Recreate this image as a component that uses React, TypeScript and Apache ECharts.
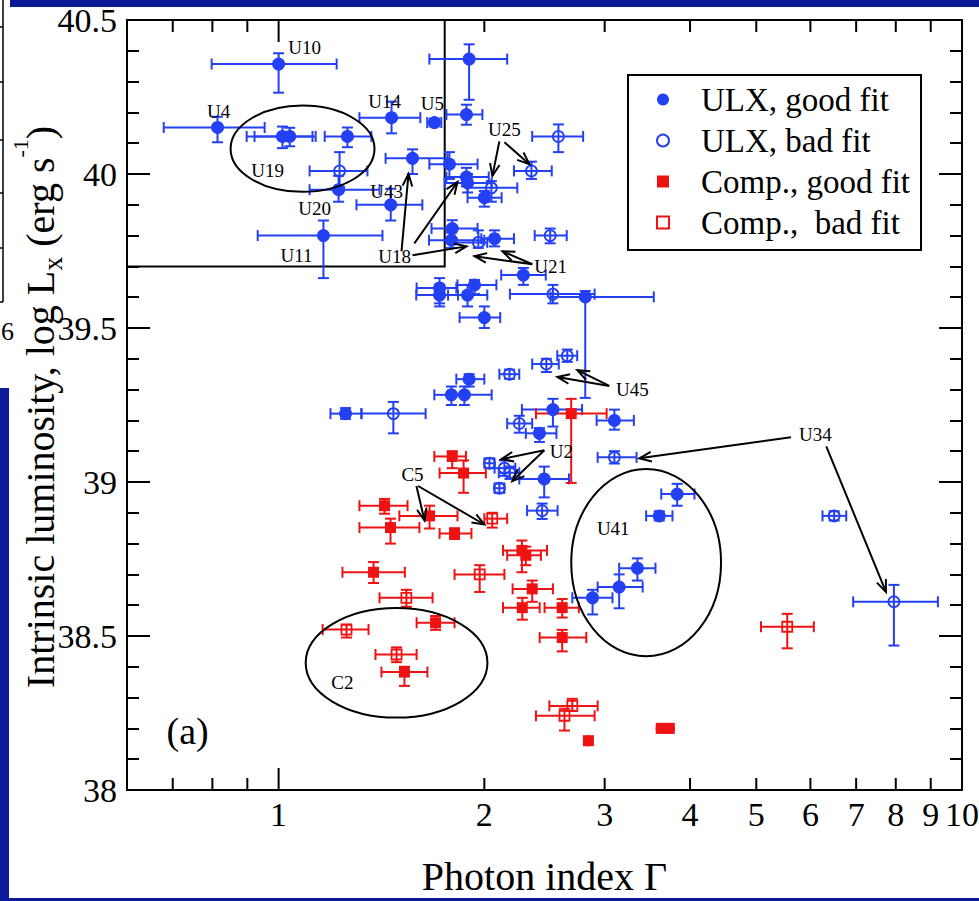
import React, { useEffect, useRef } from 'react';
import * as echarts from 'echarts';

const X_MIN = 0.6;
const X_MAX = 10;
const Y_MIN = 38;
const Y_MAX = 40.5;

const xMinorTicks = [0.7, 0.8, 0.9, 2, 3, 4, 5, 6, 7, 8, 9];
const xMajorTicks = [1, 10];
const xTickLabels = [1, 2, 3, 4, 5, 6, 7, 8, 9, 10];

const BLUE = '#2340f5';
const RED = '#ee1212';
const NAVY = '#0a1a98';
const FONT = '"Liberation Serif", "Times New Roman", serif';

// [Gamma, logLx, GammaLow, GammaHigh, LxLow, LxHigh]
const ulxGood = [
  [1.0, 40.357, 0.798, 1.216, 40.264, 40.392],
  [0.814, 40.151, 0.679, 0.954, 40.103, 40.186],
  [1.013, 40.122, 0.898, 1.121, 40.084, 40.154],
  [1.038, 40.122, 0.922, 1.133, 40.09, 40.15],
  [1.261, 40.122, 1.168, 1.367, 40.087, 40.151],
  [1.224, 39.949, 1.11, 1.405, 39.91, 39.994],
  [1.463, 40.183, 1.313, 1.612, 40.132, 40.235],
  [1.69, 40.167, 1.65, 1.73, 40.155, 40.18],
  [1.883, 40.193, 1.76, 1.987, 40.16, 40.225],
  [1.9, 40.373, 1.662, 2.16, 40.241, 40.421],
  [1.57, 40.051, 1.434, 1.766, 40.0, 40.08],
  [1.459, 39.9, 1.3, 1.623, 39.849, 39.952],
  [1.163, 39.8, 0.932, 1.419, 39.662, 39.849],
  [1.778, 40.032, 1.662, 1.955, 39.984, 40.071],
  [1.883, 39.99, 1.76, 2.03, 39.96, 40.02],
  [1.89, 39.971, 1.75, 2.05, 39.94, 40.0],
  [2.0, 39.923, 1.89, 2.12, 39.894, 39.945],
  [1.795, 39.823, 1.674, 1.955, 39.79, 39.85],
  [1.79, 39.785, 1.66, 2.0, 39.76, 39.81],
  [2.07, 39.79, 1.98, 2.21, 39.765, 39.817],
  [2.281, 39.672, 2.117, 2.46, 39.64, 39.695],
  [2.81, 39.601, 2.5, 3.54, 39.273, 39.62],
  [1.72, 39.63, 1.592, 1.82, 39.58, 39.662],
  [1.72, 39.607, 1.59, 1.83, 39.57, 39.64],
  [1.935, 39.64, 1.827, 2.083, 39.61, 39.656],
  [1.89, 39.607, 1.77, 2.02, 39.57, 39.64],
  [2.0, 39.534, 1.84, 2.11, 39.5, 39.57],
  [1.9, 39.334, 1.82, 2.0, 39.31, 39.35],
  [1.79, 39.283, 1.69, 1.86, 39.25, 39.31],
  [1.87, 39.283, 1.77, 2.05, 39.25, 39.31],
  [1.253, 39.222, 1.191, 1.322, 39.205, 39.24],
  [2.52, 39.235, 2.27, 2.78, 39.18, 39.27],
  [3.1, 39.2, 2.92, 3.31, 39.17, 39.235],
  [2.408, 39.158, 2.3, 2.55, 39.13, 39.175],
  [2.447, 39.01, 2.25, 2.66, 38.95, 39.05],
  [2.88, 38.624, 2.69, 3.08, 38.57, 38.65],
  [3.15, 38.659, 2.93, 3.41, 38.59, 38.7],
  [3.35, 38.72, 3.15, 3.56, 38.68, 38.752],
  [3.606, 38.89, 3.45, 3.77, 38.875, 38.905],
  [3.83, 38.961, 3.63, 4.06, 38.923, 38.994],
];

const ulxBad = [
  [1.228, 40.01, 1.11, 1.349, 39.958, 40.071],
  [2.567, 40.122, 2.35, 2.79, 40.071, 40.161],
  [2.344, 40.01, 2.21, 2.51, 39.984, 40.04],
  [2.048, 39.955, 1.89, 2.235, 39.91, 39.977],
  [1.96, 39.778, 1.79, 2.02, 39.76, 39.817],
  [2.497, 39.8, 2.37, 2.64, 39.775, 39.823],
  [2.52, 39.61, 2.18, 2.9, 39.58, 39.64],
  [2.645, 39.41, 2.557, 2.735, 39.39, 39.43],
  [2.465, 39.383, 2.35, 2.57, 39.357, 39.4],
  [2.177, 39.35, 2.104, 2.25, 39.335, 39.365],
  [1.472, 39.222, 1.322, 1.641, 39.158, 39.26],
  [2.25, 39.19, 2.16, 2.35, 39.16, 39.215],
  [3.1, 39.08, 2.93, 3.34, 39.06, 39.1],
  [2.035, 39.061, 2.0, 2.07, 39.045, 39.077],
  [2.14, 39.045, 2.07, 2.22, 39.02, 39.07],
  [2.18, 39.03, 2.1, 2.25, 39.01, 39.05],
  [2.104, 38.98, 2.07, 2.14, 38.965, 38.995],
  [2.43, 38.907, 2.31, 2.56, 38.88, 38.93],
  [6.5, 38.89, 6.25, 6.77, 38.875, 38.905],
  [7.95, 38.611, 6.93, 9.22, 38.469, 38.666],
];

const compGood = [
  [2.68, 39.222, 2.38, 3.02, 38.997, 39.27],
  [1.795, 39.083, 1.69, 1.88, 39.045, 39.1],
  [1.865, 39.029, 1.72, 2.01, 38.965, 39.07],
  [1.429, 38.923, 1.313, 1.544, 38.897, 38.945],
  [1.663, 38.89, 1.502, 1.827, 38.849, 38.923],
  [1.458, 38.852, 1.313, 1.607, 38.8, 38.881],
  [1.809, 38.833, 1.72, 1.915, 38.815, 38.85],
  [2.27, 38.778, 2.13, 2.47, 38.707, 38.81],
  [2.3, 38.762, 2.16, 2.42, 38.73, 38.79],
  [1.377, 38.707, 1.24, 1.53, 38.672, 38.74],
  [2.35, 38.653, 2.2, 2.52, 38.611, 38.68],
  [2.273, 38.592, 2.13, 2.41, 38.553, 38.624],
  [2.6, 38.592, 2.45, 2.75, 38.56, 38.62],
  [2.6, 38.495, 2.41, 2.82, 38.45, 38.52],
  [1.697, 38.543, 1.592, 1.809, 38.52, 38.565],
  [1.528, 38.383, 1.414, 1.651, 38.338, 38.4],
  [2.84, 38.16, 2.84, 2.84, 38.16, 38.16],
  [3.63, 38.2, 3.63, 3.63, 38.2, 38.2],
  [3.73, 38.2, 3.73, 3.73, 38.2, 38.2],
];

const compBad = [
  [2.054, 38.881, 2.0, 2.16, 38.852, 38.9],
  [1.969, 38.7, 1.809, 2.14, 38.643, 38.73],
  [1.538, 38.624, 1.405, 1.68, 38.595, 38.65],
  [1.257, 38.521, 1.16, 1.354, 38.495, 38.537],
  [1.488, 38.44, 1.386, 1.592, 38.415, 38.463],
  [5.55, 38.53, 5.08, 6.07, 38.46, 38.572],
  [2.69, 38.273, 2.49, 2.93, 38.257, 38.296],
  [2.62, 38.241, 2.38, 2.9, 38.193, 38.264],
];

// annotations (data coordinates)
const labelTexts = ['U10', 'U4', 'U19', 'U20', 'U11', 'U14', 'U5', 'U43', 'U18', 'U25', 'U21', 'U45', 'U2', 'U34', 'U41', 'C5', 'C2'];
const labelX = [1.092, 0.817, 0.964, 1.129, 1.062, 1.429, 1.679, 1.439, 1.478, 2.14, 2.5, 3.293, 2.593, 6.1, 3.088, 1.57, 1.24];
const labelY = [40.412, 40.203, 40.01, 39.887, 39.736, 40.235, 40.228, 39.942, 39.733, 40.145, 39.701, 39.299, 39.1, 39.154, 38.849, 39.023, 38.35];
const panelTag = ['(a)'];
const panelTagPos = [[0.736, 38.193]];

// [fromGamma, fromLx, toGamma, toLx]
const arrows = [
  [1.513, 39.749, 1.549, 40.0],
  [1.58, 39.775, 1.827, 39.974],
  [1.57, 39.736, 1.883, 39.765],
  [2.104, 40.106, 2.055, 39.994],
  [2.14, 40.103, 2.328, 40.032],
  [2.351, 39.707, 1.935, 39.733],
  [2.351, 39.707, 2.126, 39.749],
  [3.047, 39.312, 2.558, 39.341],
  [3.047, 39.312, 2.736, 39.363],
  [2.448, 39.103, 2.118, 39.074],
  [2.448, 39.103, 2.198, 39.003],
  [5.62, 39.145, 3.372, 39.077],
  [6.33, 39.116, 7.74, 38.643],
  [1.591, 38.987, 1.635, 38.875],
  [1.6, 38.987, 2.0, 38.862],
];

// [centerGamma, centerLx, halfWidth (decades), halfHeight (dex)]
const ellipses = [
  [1.084, 40.082, 0.1053, 0.14],
  [1.488, 38.413, 0.133, 0.178],
  [3.45, 38.738, 0.1096, 0.304],
];

// zoom box [GammaMin, LxMin, GammaMax, LxMax]
const zoomBox = [[0.6, 39.7, 1.75, 40.5]];

const legendNames = ['ULX, good fit', 'ULX, bad fit', 'Comp., good fit', 'Comp.,  bad fit'];

function errorBarSeries(name: string, data: number[][], color: string) {
  return {
    type: 'custom',
    name,
    data,
    z: 2,
    silent: true,
    clip: false,
    encode: { x: [0, 2, 3], y: [1, 4, 5] },
    renderItem: (params: any, api: any) => {
      const x = api.value(0);
      const y = api.value(1);
      const c = api.coord([x, y]);
      const xl = api.coord([api.value(2), y]);
      const xh = api.coord([api.value(3), y]);
      const yl = api.coord([x, api.value(4)]);
      const yh = api.coord([x, api.value(5)]);
      const cap = 5.5;
      const style = { stroke: color, lineWidth: 2, fill: 'none' };
      return {
        type: 'group',
        children: [
          { type: 'line', shape: { x1: xl[0], y1: c[1], x2: xh[0], y2: c[1] }, style },
          { type: 'line', shape: { x1: c[0], y1: yl[1], x2: c[0], y2: yh[1] }, style },
          { type: 'line', shape: { x1: xl[0], y1: c[1] - cap, x2: xl[0], y2: c[1] + cap }, style },
          { type: 'line', shape: { x1: xh[0], y1: c[1] - cap, x2: xh[0], y2: c[1] + cap }, style },
          { type: 'line', shape: { x1: c[0] - cap, y1: yl[1], x2: c[0] + cap, y2: yl[1] }, style },
          { type: 'line', shape: { x1: c[0] - cap, y1: yh[1], x2: c[0] + cap, y2: yh[1] }, style },
        ],
      };
    },
  };
}

export default function App() {
  const ref = useRef<HTMLDivElement>(null);
  useEffect(() => {
    document.body.style.margin = '0';
    document.body.style.overflow = 'hidden';
    const chart = echarts.init(ref.current as HTMLDivElement, null, { renderer: 'svg' });

    const yAxisCommon = {
      type: 'value',
      min: Y_MIN,
      max: Y_MAX,
      interval: 0.5,
      axisLine: { show: false },
      axisTick: { show: true, inside: true, length: 23, lineStyle: { color: '#000', width: 2 } },
      minorTick: { show: true, splitNumber: 5, length: 12, lineStyle: { color: '#000', width: 2 } },
      splitLine: { show: false },
      minorSplitLine: { show: false },
    };

    const option: any = {
      animation: false,
      backgroundColor: '#fff',
      grid: { left: 127, top: 20, right: 17, bottom: 104, show: true, borderColor: '#000', borderWidth: 2, backgroundColor: 'transparent' },
      xAxis: {
        type: 'log',
        logBase: 10,
        min: X_MIN,
        max: X_MAX,
        axisLine: { show: false },
        axisTick: { show: false },
        axisLabel: { show: false },
        splitLine: { show: false },
        name: 'Photon index Γ',
        nameLocation: 'middle',
        nameGap: 66,
        nameTextStyle: { fontFamily: FONT, fontSize: 40, color: '#000' },
      },
      yAxis: [
        {
          ...yAxisCommon,
          position: 'left',
          axisLabel: { show: true, margin: 10, fontFamily: FONT, fontSize: 34, color: '#000' },
        },
        {
          ...yAxisCommon,
          position: 'right',
          axisLabel: { show: false },
        },
      ],
      legend: {
        orient: 'vertical',
        left: 628,
        top: 75,
        padding: [8, 11, 11, 28],
        itemWidth: 12,
        itemHeight: 12,
        itemGap: 8,
        selectedMode: false,
        borderColor: '#000',
        borderWidth: 2,
        backgroundColor: '#fff',
        textStyle: { fontFamily: FONT, fontSize: 33, color: '#000', lineHeight: 33, padding: [0, 0, 0, 27] },
        data: [
          { name: legendNames[0], icon: 'circle', itemStyle: { color: BLUE, borderWidth: 0, opacity: 1 } },
          { name: legendNames[1], icon: 'circle', itemStyle: { color: 'rgba(0,0,0,0)', borderColor: BLUE, borderWidth: 2, opacity: 1 } },
          { name: legendNames[2], icon: 'rect', itemStyle: { color: RED, borderWidth: 0, opacity: 1 } },
          { name: legendNames[3], icon: 'rect', itemStyle: { color: 'rgba(0,0,0,0)', borderColor: RED, borderWidth: 2, opacity: 1 } },
        ],
      },
      graphic: [
        { type: 'rect', z: 100, shape: { x: 10, y: 0, width: 969, height: 7 }, style: { fill: NAVY } },
        { type: 'rect', z: 100, shape: { x: 0, y: 388, width: 9, height: 513 }, style: { fill: NAVY } },
        { type: 'rect', z: 100, shape: { x: 0, y: 898, width: 979, height: 3 }, style: { fill: NAVY } },
        { type: 'line', z: 100, shape: { x1: 3, y1: 0, x2: 3, y2: 302 }, style: { stroke: '#000', lineWidth: 1.5 } },
        { type: 'line', z: 100, shape: { x1: 0, y1: 302, x2: 3, y2: 302 }, style: { stroke: '#000', lineWidth: 1.5 } },
        { type: 'line', z: 100, shape: { x1: 0, y1: 27, x2: 3, y2: 27 }, style: { stroke: '#000', lineWidth: 1.5 } },
        { type: 'line', z: 100, shape: { x1: 0, y1: 82, x2: 3, y2: 82 }, style: { stroke: '#000', lineWidth: 1.5 } },
        { type: 'line', z: 100, shape: { x1: 0, y1: 140, x2: 3, y2: 140 }, style: { stroke: '#000', lineWidth: 1.5 } },
        { type: 'line', z: 100, shape: { x1: 0, y1: 193, x2: 3, y2: 193 }, style: { stroke: '#000', lineWidth: 1.5 } },
        { type: 'line', z: 100, shape: { x1: 0, y1: 248, x2: 3, y2: 248 }, style: { stroke: '#000', lineWidth: 1.5 } },
        {
          type: 'text', z: 100, x: 1, y: 331,
          style: { text: '6', fontFamily: FONT, fontSize: 26, fill: '#000', align: 'left', verticalAlign: 'middle' },
        },
        {
          type: 'text', z: 50, x: 40, y: 407, rotation: Math.PI / 2,
          style: {
            text: '{m|Intrinsic luminosity, log L}{sub|x}{m| (erg s}{sup|-1}{m|)}',
            fontFamily: FONT, fontSize: 40, fill: '#000', align: 'center', verticalAlign: 'middle',
            rich: {
              m: { fontFamily: FONT, fontSize: 40, lineHeight: 40, verticalAlign: 'middle', fill: '#000' },
              sub: { fontFamily: FONT, fontSize: 28, lineHeight: 28, padding: [24, 0, 0, 0], verticalAlign: 'middle', fill: '#000' },
              sup: { fontFamily: FONT, fontSize: 22, lineHeight: 22, padding: [0, 0, 40, 0], verticalAlign: 'middle', fill: '#000' },
            },
          },
        },
      ],
      series: [
        // x ticks (bottom and top)
        {
          type: 'custom', name: 'xMinor', silent: true, clip: false, z: 5,
          data: xMinorTicks.map((v) => [v, Y_MIN]),
          encode: { x: 0, y: 1 },
          renderItem: (params: any, api: any) => {
            const b = api.coord([api.value(0), Y_MIN]);
            const t = api.coord([api.value(0), Y_MAX]);
            const s = { stroke: '#000', lineWidth: 2 };
            return {
              type: 'group',
              children: [
                { type: 'line', shape: { x1: b[0], y1: b[1], x2: b[0], y2: b[1] - 12 }, style: s },
                { type: 'line', shape: { x1: t[0], y1: t[1], x2: t[0], y2: t[1] + 12 }, style: s },
              ],
            };
          },
        },
        {
          type: 'custom', name: 'xMajor', silent: true, clip: false, z: 5,
          data: xMajorTicks.map((v) => [v, Y_MIN]),
          encode: { x: 0, y: 1 },
          renderItem: (params: any, api: any) => {
            const b = api.coord([api.value(0), Y_MIN]);
            const t = api.coord([api.value(0), Y_MAX]);
            const s = { stroke: '#000', lineWidth: 2 };
            return {
              type: 'group',
              children: [
                { type: 'line', shape: { x1: b[0], y1: b[1], x2: b[0], y2: b[1] - 22 }, style: s },
                { type: 'line', shape: { x1: t[0], y1: t[1], x2: t[0], y2: t[1] + 22 }, style: s },
              ],
            };
          },
        },
        {
          type: 'custom', name: 'xLabels', silent: true, clip: false, z: 5,
          data: xTickLabels.map((v) => [v, Y_MIN]),
          encode: { x: 0, y: 1 },
          renderItem: (params: any, api: any) => {
            const b = api.coord([api.value(0), Y_MIN]);
            return {
              type: 'text', x: b[0], y: b[1] + 24,
              style: { text: String(xTickLabels[params.dataIndex]), fontFamily: FONT, fontSize: 34, fill: '#000', align: 'center', verticalAlign: 'middle' },
            };
          },
        },
        // zoom box
        {
          type: 'custom', name: 'box', silent: true, clip: false, z: 1,
          data: zoomBox,
          encode: { x: [0, 2], y: [1, 3] },
          renderItem: (params: any, api: any) => {
            const a = api.coord([api.value(0), api.value(1)]);
            const b = api.coord([api.value(2), api.value(3)]);
            return {
              type: 'polyline',
              shape: { points: [[b[0], b[1]], [b[0], a[1]], [a[0], a[1]]] },
              style: { stroke: '#000', lineWidth: 2, fill: 'none' },
            };
          },
        },
        errorBarSeries('ulxGoodErr', ulxGood, BLUE),
        errorBarSeries('ulxBadErr', ulxBad, BLUE),
        errorBarSeries('compGoodErr', compGood, RED),
        errorBarSeries('compBadErr', compBad, RED),
        {
          name: legendNames[0], type: 'scatter', z: 3, silent: true,
          data: ulxGood.map((d) => [d[0], d[1]]),
          symbol: 'circle', symbolSize: 13,
          itemStyle: { color: BLUE, borderWidth: 0, opacity: 1 },
        },
        {
          name: legendNames[1], type: 'scatter', z: 3, silent: true,
          data: ulxBad.map((d) => [d[0], d[1]]),
          symbol: 'circle', symbolSize: 11,
          itemStyle: { color: 'rgba(0,0,0,0)', borderColor: BLUE, borderWidth: 1.8, opacity: 1 },
        },
        {
          name: legendNames[2], type: 'scatter', z: 3, silent: true,
          data: compGood.map((d) => [d[0], d[1]]),
          symbol: 'rect', symbolSize: 11,
          itemStyle: { color: RED, borderWidth: 0, opacity: 1 },
        },
        {
          name: legendNames[3], type: 'scatter', z: 3, silent: true,
          data: compBad.map((d) => [d[0], d[1]]),
          symbol: 'rect', symbolSize: 10,
          itemStyle: { color: 'rgba(0,0,0,0)', borderColor: RED, borderWidth: 1.8, opacity: 1 },
        },
        // ellipses
        {
          type: 'custom', name: 'ellipses', silent: true, clip: false, z: 4,
          data: ellipses,
          encode: { x: 0, y: 1 },
          renderItem: (params: any, api: any) => {
            const cx = api.value(0);
            const cy = api.value(1);
            const c = api.coord([cx, cy]);
            const r = api.coord([cx * Math.pow(10, api.value(2)), cy + api.value(3)]);
            return {
              type: 'ellipse',
              shape: { cx: c[0], cy: c[1], rx: r[0] - c[0], ry: c[1] - r[1] },
              style: { fill: 'none', stroke: '#000', lineWidth: 2 },
            };
          },
        },
        // arrows
        {
          type: 'custom', name: 'arrows', silent: true, clip: false, z: 4,
          data: arrows,
          encode: { x: [0, 2], y: [1, 3] },
          renderItem: (params: any, api: any) => {
            const p1 = api.coord([api.value(0), api.value(1)]);
            const p2 = api.coord([api.value(2), api.value(3)]);
            const ang = Math.atan2(p2[1] - p1[1], p2[0] - p1[0]);
            const L = 13;
            const a = 0.38;
            const h1 = [p2[0] - L * Math.cos(ang - a), p2[1] - L * Math.sin(ang - a)];
            const h2 = [p2[0] - L * Math.cos(ang + a), p2[1] - L * Math.sin(ang + a)];
            const s = { stroke: '#000', lineWidth: 2, fill: 'none' };
            return {
              type: 'group',
              children: [
                { type: 'line', shape: { x1: p1[0], y1: p1[1], x2: p2[0], y2: p2[1] }, style: s },
                { type: 'polyline', shape: { points: [h1, p2, h2] }, style: s },
              ],
            };
          },
        },
        // labels
        {
          type: 'custom', name: 'labels', silent: true, clip: false, z: 4,
          data: labelX.map((x, i) => [x, labelY[i]]),
          encode: { x: 0, y: 1 },
          renderItem: (params: any, api: any) => {
            const p = api.coord([api.value(0), api.value(1)]);
            return {
              type: 'text', x: p[0], y: p[1],
              style: { text: labelTexts[params.dataIndex], fontFamily: FONT, fontSize: 19, fill: '#000', align: 'center', verticalAlign: 'middle' },
            };
          },
        },
        {
          type: 'custom', name: 'panelTag', silent: true, clip: false, z: 4,
          data: panelTagPos,
          encode: { x: 0, y: 1 },
          renderItem: (params: any, api: any) => {
            const p = api.coord([api.value(0), api.value(1)]);
            return {
              type: 'text', x: p[0], y: p[1],
              style: { text: panelTag[params.dataIndex], fontFamily: FONT, fontSize: 38, fill: '#000', align: 'center', verticalAlign: 'middle' },
            };
          },
        },
      ],
    };

    chart.setOption(option);
    return () => {
      chart.dispose();
    };
  }, []);
  return <div ref={ref} style={{ width: 979, height: 901 }} />;
}
